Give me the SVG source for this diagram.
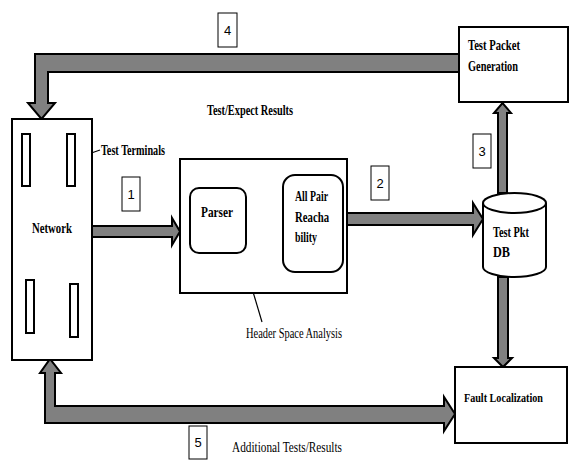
<svg xmlns="http://www.w3.org/2000/svg" width="569" height="460" viewBox="0 0 569 460">
<defs>
<style>
.box{fill:#fff;stroke:#000;stroke-width:2}
.rbox{fill:#fff;stroke:#000;stroke-width:2}
.term{fill:#fff;stroke:#000;stroke-width:2}
.num{fill:#fff;stroke:#000;stroke-width:1}
.fat{fill:#808080;stroke:#000;stroke-width:2;stroke-linejoin:miter}
.thin{fill:none;stroke:#000;stroke-width:1.2}
.lb{font-family:"Liberation Serif",serif;font-weight:bold;font-size:14px;fill:#000}
.lr{font-family:"Liberation Serif",serif;font-size:14px;fill:#000}
.n{font-family:"Liberation Sans",sans-serif;font-size:13px;fill:#000;text-anchor:middle}
</style>
</defs>
<rect width="569" height="460" fill="#fff"/>

<g id="connectors">
<polygon class="fat" points="459,54 35,54 35,103 28,103 41.5,119 55,103 48,103 48,72 459,72"/>
<polygon class="fat" points="92,226 172,226 172,218 180,231.5 172,245 172,237 92,237"/>
<polygon class="fat" points="246,207 274,207 274,200 283,213.5 274,227 274,220 246,220"/>
<polygon class="fat" points="343,213 473,213 473,203 483,219 473,235 473,225 343,225"/>
<polygon class="fat" points="498,193 498,113 494,113 502.5,103 511,113 507,113 507,193"/>
<polygon class="fat" points="498,277 498,358 494,358 503,367 512,358 508,358 508,277"/>
<polygon class="fat" points="45,423 45,373 40,373 50,359 61,373 55,373 55,406 444,406 444,397 455,414 444,431 444,423"/>
<line class="thin" x1="100" y1="150" x2="77" y2="158"/>
<polyline class="thin" points="83.9,159.3 77,158 81.6,152.7"/>
<line class="thin" x1="262" y1="322" x2="245" y2="265"/>
<polyline class="thin" points="243.4,271.8 245,265 250.1,269.8"/>
</g>

<g id="network">
<rect class="box" x="12" y="119" width="80" height="241"/>
<rect class="term" x="22" y="134" width="8" height="52"/>
<rect class="term" x="67" y="134" width="8" height="52"/>
<rect class="term" x="26" y="280" width="8" height="53"/>
<rect class="term" x="70" y="284" width="8" height="53"/>
<text class="lb" x="32" y="233" textLength="40" lengthAdjust="spacingAndGlyphs">Network</text>
</g>
<g id="test-terminals-label">
<text class="lb" x="101" y="155" textLength="64" lengthAdjust="spacingAndGlyphs">Test Terminals</text>
</g>

<g id="header-space-analysis">
<rect class="box" x="180" y="159" width="167" height="134"/>
</g>
<g id="parser">
<rect class="rbox" x="190" y="188" width="56" height="65" rx="9"/>
<text class="lb" x="201" y="217" textLength="32" lengthAdjust="spacingAndGlyphs">Parser</text>
</g>
<g id="all-pair">
<rect class="rbox" x="283" y="175" width="60" height="97" rx="12"/>
<text class="lb" x="295" y="201" textLength="33" lengthAdjust="spacingAndGlyphs">All Pair</text>
<text class="lb" x="295" y="222" textLength="34" lengthAdjust="spacingAndGlyphs">Reacha</text>
<text class="lb" x="295" y="242" textLength="22" lengthAdjust="spacingAndGlyphs">bility</text>
</g>

<g id="test-packet-generation">
<rect class="box" x="459" y="27" width="109" height="75"/>
<text class="lb" x="468" y="50" textLength="52" lengthAdjust="spacingAndGlyphs">Test Packet</text>
<text class="lb" x="468" y="71" textLength="50" lengthAdjust="spacingAndGlyphs">Generation</text>
</g>

<g id="test-pkt-db">
<path class="box" d="M483,203 L483,267 A31.5,10 0 0 0 546,267 L546,203"/>
<ellipse class="box" cx="514.5" cy="203" rx="31.5" ry="10"/>
<text class="lb" x="493" y="237" textLength="36" lengthAdjust="spacingAndGlyphs">Test Pkt</text>
<text class="lb" x="493" y="257" textLength="17" lengthAdjust="spacingAndGlyphs">DB</text>
</g>

<g id="fault-localization">
<rect class="box" x="455" y="367" width="112" height="76"/>
<text class="lb" x="464" y="402" textLength="79" lengthAdjust="spacingAndGlyphs" style="font-size:12px">Fault Localization</text>
</g>

<g id="labels">
<text class="lb" x="207" y="115" textLength="86" lengthAdjust="spacingAndGlyphs">Test/Expect Results</text>
<text class="lr" x="246" y="338" textLength="96" lengthAdjust="spacingAndGlyphs">Header Space Analysis</text>
<text class="lb" x="232" y="452" textLength="110" lengthAdjust="spacingAndGlyphs" style="font-weight:normal">Additional Tests/Results</text>
</g>

<g id="step-4"><rect class="num" x="218" y="13" width="19" height="34"/><text class="n" x="227.5" y="35">4</text></g>
<g id="step-1"><rect class="num" x="122" y="177" width="18" height="34"/><text class="n" x="131" y="199">1</text></g>
<g id="step-2"><rect class="num" x="371" y="166" width="18" height="34"/><text class="n" x="380" y="188">2</text></g>
<g id="step-3"><rect class="num" x="473" y="134" width="18" height="34"/><text class="n" x="482" y="156">3</text></g>
<g id="step-5"><rect class="num" x="189" y="426" width="18" height="33"/><text class="n" x="198" y="447">5</text></g>
</svg>
